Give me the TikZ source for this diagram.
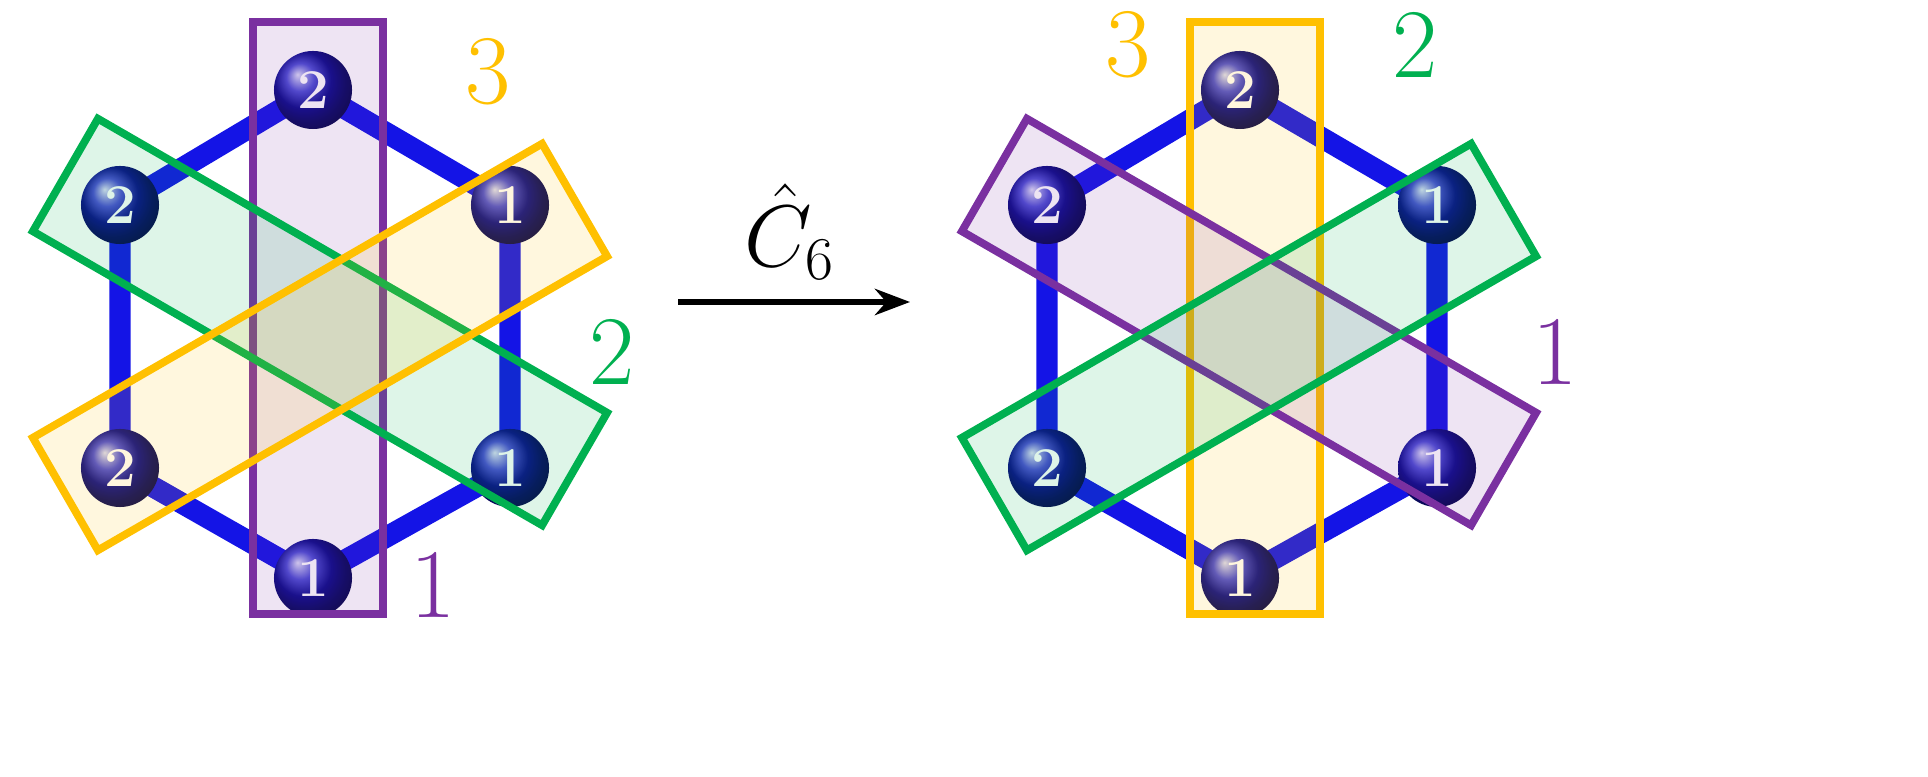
\documentclass[tikz,border=0pt]{standalone}
\usetikzlibrary{arrows.meta}
\definecolor{pur}{RGB}{122,48,160}
\definecolor{grn}{RGB}{0,176,80}
\definecolor{org}{RGB}{255,192,0}
\definecolor{bnd}{RGB}{20,20,230}
\tikzset{
  atom/.style={circle,minimum size=0.78cm,inner sep=0pt,shading=ball,ball color=bnd!85!black,text=white,font=\fontsize{16}{16}\selectfont\bfseries},
  bond/.style={line width=6pt,bnd},
  sel/.style={line width=2.2pt,fill opacity=0.13,draw opacity=1},
  lbl/.style={font=\fontsize{28}{28}\selectfont}
}
\begin{document}
\begin{tikzpicture}[x=0.01cm,y=-0.01cm]
\useasboundingbox (0,0) rectangle (1928,777);
\foreach \ox/\p in {0/L,927/R}{
  \begin{scope}[xshift=\ox*0.01cm]
  \coordinate (\p t) at (313,90);
  \coordinate (\p ul) at (120,205);
  \coordinate (\p ur) at (510,205);
  \coordinate (\p ll) at (120,468);
  \coordinate (\p lr) at (510,468);
  \coordinate (\p b) at (313,578);
  \draw[bond] (\p t)--(\p ur)--(\p lr)--(\p b)--(\p ll)--(\p ul)--cycle;
  \node[atom] at (\p t) {2};
  \node[atom] at (\p ul) {2};
  \node[atom] at (\p ur) {1};
  \node[atom] at (\p ll) {2};
  \node[atom] at (\p lr) {1};
  \node[atom] at (\p b) {1};
  \end{scope}
}
% left selections
\draw[sel,draw=pur,fill=pur] (253,22) rectangle (383,614);
\draw[sel,draw=grn,fill=grn,rotate around={-30:(320,322)}] (26,257) rectangle (614,387);
\draw[sel,draw=org,fill=org,rotate around={30:(320,347)}] (26,282) rectangle (614,412);
\node[lbl,text=org] (l3) at (488,72) {3};
\node[lbl,text=grn] (l2) at (612,352) {2};
\node[lbl,text=pur] (l1) at (433,585) {1};
% right selections
\draw[sel,draw=org,fill=org] (1190,22) rectangle (1320,614);
\draw[sel,draw=pur,fill=pur,rotate around={-30:(1249,322)}] (955,257) rectangle (1543,387);
\draw[sel,draw=grn,fill=grn,rotate around={30:(1249,347)}] (955,282) rectangle (1543,412);
\node[lbl,text=org] (r3) at (1128,45) {3};
\node[lbl,text=grn] (r2) at (1415,45) {2};
\node[lbl,text=pur] (r1) at (1555,352) {1};
% arrow
\coordinate (a1) at (678,302);
\coordinate (a2) at (910,302);
\draw[line width=1.5pt,-{Stealth[length=10pt]}] (a1)--(a2);
\node[font=\fontsize{26}{26}\selectfont,inner sep=0pt] (op) at (790,232) {$\hat{C}_{6}$};
\end{tikzpicture}
\end{document}
